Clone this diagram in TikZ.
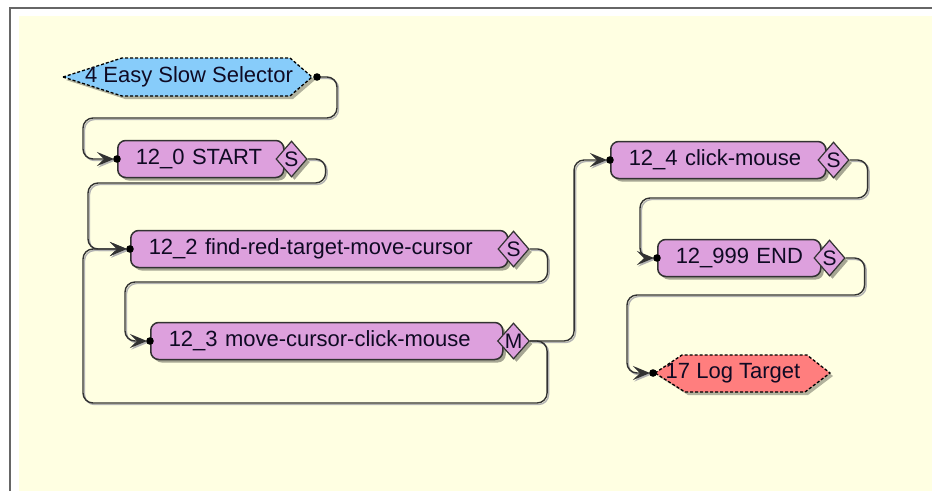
\documentclass[tikz,border=0pt]{standalone}
\usepackage{fontspec}
\setmainfont{Liberation Sans}
\usetikzlibrary{shapes.geometric,shadows,arrows.meta}

\definecolor{canvas}{RGB}{255,255,226}
\definecolor{stateplum}{RGB}{221,160,221}
\definecolor{selblue}{RGB}{135,204,250}
\definecolor{logred}{RGB}{255,126,126}
\definecolor{wiregray}{RGB}{50,50,50}
\definecolor{labelink}{RGB}{15,10,35}

\begin{document}
\begin{tikzpicture}[
            x = 1pt, y = -1pt, % one unit per pixel, y going down
            > = {Stealth[length=17pt,width=14pt,inset=7pt]}, % arrow head style
            font = \fontsize{22}{24}\selectfont,
            text = labelink,
            boxshadow/.style = {drop shadow={shadow xshift=3pt,shadow yshift=-3pt,fill=black,opacity=.35}},
            statebox/.style = {shape=rectangle, draw=wiregray, line width=1.5pt, fill=stateplum,
                               rounded corners=8pt, anchor=west, minimum height=37pt,
                               inner xsep=18pt, align=left, boxshadow},
            port/.style = {shape=diamond, draw=wiregray, line width=1.2pt, fill=stateplum,
                           minimum width=31pt, minimum height=36pt, inner sep=0pt,
                           font=\fontsize{21}{21}\selectfont, boxshadow},
            hexline/.style = {draw=black, line width=1.3pt, dash pattern=on 3pt off 2pt},
            link/.style = {draw=wiregray, line width=1.4pt, rounded corners=10pt, ->, shorten > = 3pt,
                           preaction={draw=black!30, line width=1.4pt,
                                      transform canvas={shift={(1.5pt,-1.5pt)}}}}
        ]

\useasboundingbox (0,0) rectangle (932,491);

% panel
\fill[white] (0,0) rectangle (932,491);
\fill[canvas] (19,16) rectangle (932,491);
\draw[black!60, line width=1.5pt] (10,491) -- (10,8) -- (932,8);

% selector and target hexagons
\fill[black, opacity=.3] (66,80) -- (125,61) -- (293,61) -- (315,80) -- (293,99) -- (125,99) -- cycle;
\path[hexline, fill=selblue] (63,77) -- (122,58) -- (290,58) -- (312,77) -- (290,96) -- (122,96) -- cycle;
\node[] (sel) at (189,77) {4 Easy Slow Selector};
\coordinate (selout) at (317,77);

\fill[black, opacity=.3] (658,376) -- (685,358) -- (810,358) -- (833,376) -- (808,395) -- (688,395) -- cycle;
\path[hexline, fill=logred] (655,373) -- (682,355) -- (807,355) -- (830,373) -- (805,392) -- (685,392) -- cycle;
\node[] (log) at (733,373) {17 Log Target};
\coordinate (login) at (653,373);

% states
\node[statebox, text width=130pt] (start) at (117,159) {\mbox{12\_0 START}};
\node[statebox, text width=341pt] (find) at (130,249) {\mbox{12\_2 find-red-target-move-cursor}};
\node[statebox, text width=316pt] (move) at (150,341) {\mbox{12\_3 move-cursor-click-mouse}};
\node[statebox, text width=179pt] (click) at (610,160) {\mbox{12\_4 click-mouse}};
\node[statebox, text width=127pt] (finish) at (657,258) {\mbox{12\_999 END}};

\node[port] (startS) at ([xshift=7pt]start.east) {S};
\node[port] (findS) at ([xshift=5pt]find.east) {S};
\node[port] (moveM) at ([xshift=10pt]move.east) {M};
\node[port] (clickS) at ([xshift=7pt]click.east) {S};
\node[port] (finishS) at ([xshift=8pt]finish.east) {S};

% connectors
\draw[link] (selout) -- ++(20,0) |- (83,118) |- (start.west);
\draw[link] (startS.east) -- ++(18,0) |- (88,183) |- (find.west);
\draw[link] (findS.east) -- ++(18,0) |- (125,282) |- (move.west);
\draw[link] (moveM.east) -- ++(44,0) |- (click.west);
\draw[link] (moveM.east) -- ++(17,0) |- (83,403) |- (find.west);
\draw[link] (clickS.east) -- ++(18,0) |- (640,198) |- (finish.west);
\draw[link] (finishS.east) -- ++(19,0) |- (627,295) |- (login);

% port dots
\foreach \n in {start,find,move,click,finish}
    \fill[black] (\n.west) circle (3.8pt);
\fill[black] (selout) circle (3.8pt);
\fill[black] (login) circle (3.8pt);
\end{tikzpicture}
\end{document}
